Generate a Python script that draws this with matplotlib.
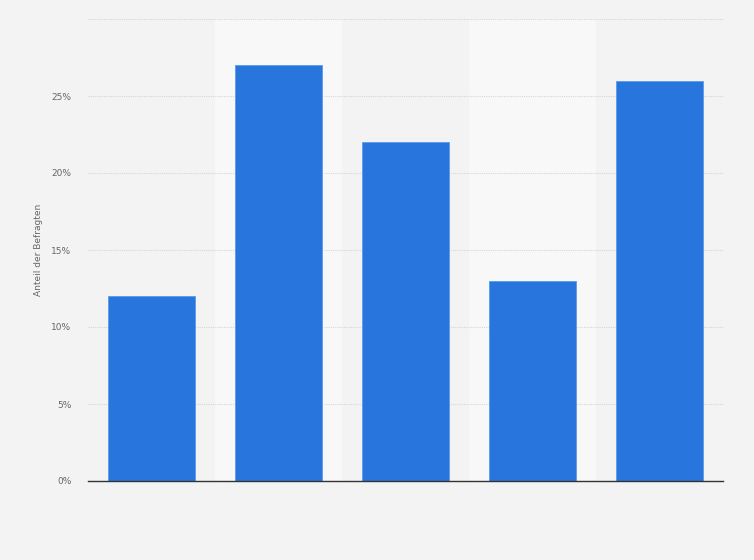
import matplotlib
matplotlib.use("Agg")
import matplotlib.pyplot as plt
from matplotlib.ticker import FuncFormatter

# values (percent)
categories = ["A", "B", "C", "D", "E"]
values = [12, 27, 22, 13, 26]
yticks = [0, 5, 10, 15, 20, 25, 30]

bg = "#f3f3f3"
band = "#f8f8f8"
bar_color = "#2876dd"

fig = plt.figure(figsize=(7.54, 5.60), dpi=100, facecolor=bg)
ax = fig.add_axes([88 / 754, 1 - 481 / 560, 635 / 754, 462 / 560])
ax.set_facecolor(bg)

x = list(range(len(categories)))

# alternating lighter column bands
for i in x:
    if i % 2 == 1:
        ax.axvspan(i - 0.5, i + 0.5, color=band, zorder=0, lw=0)

ax.bar(x, values, width=0.69, color=bar_color, zorder=3,
       edgecolor="#5a9be8", linewidth=0.6)

ax.set_xlim(-0.5, len(categories) - 0.5)
ax.set_ylim(0, 30)
ax.set_yticks(yticks)
ax.yaxis.set_major_formatter(
    FuncFormatter(lambda v, p: "" if v >= 30 else f"{int(v)}%"))
ax.set_xticks([])

ax.grid(axis="y", color="#d6d6d6", linestyle=(0, (1, 1)), linewidth=0.8, zorder=1)
ax.tick_params(axis="y", length=0, labelsize=6.5, labelcolor="#666666", pad=12)

for s in ["top", "right", "left"]:
    ax.spines[s].set_visible(False)
ax.spines["bottom"].set_color("#333333")
ax.spines["bottom"].set_linewidth(1.0)
ax.spines["bottom"].set_zorder(4)

ax.set_ylabel("Anteil der Befragten", fontsize=6.5, color="#666666", labelpad=6)

fig.savefig("out.png", dpi=100, facecolor=bg)
